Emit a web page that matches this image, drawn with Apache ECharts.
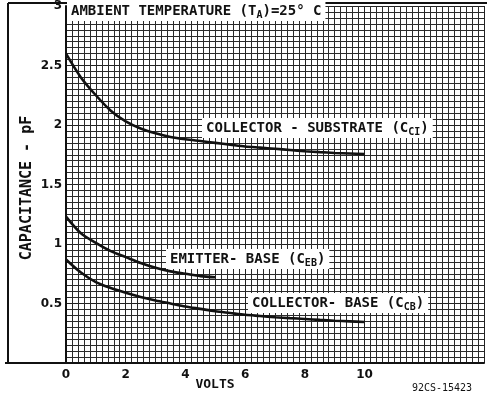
<!DOCTYPE html>
<html>
<head>
<meta charset="utf-8">
<script src="https://cdn.jsdelivr.net/npm/echarts@6/dist/echarts.min.js"></script>
<style>
  html, body { margin: 0; padding: 0; background: #fff; }
  #chart { width: 487px; height: 396px; }
</style>
</head>
<body>
<div id="chart"></div>
<script>
// values (volts -> pF)
var cciVolts = [0, 0.5, 1, 1.5, 2, 2.5, 3, 3.5, 4, 4.5, 5, 5.5, 6, 6.5, 7, 7.5, 8, 8.5, 9, 9.5, 10];
var cciValues = [2.60, 2.40, 2.25, 2.12, 2.03, 1.97, 1.93, 1.90, 1.88, 1.865, 1.85, 1.835, 1.82, 1.81, 1.80, 1.79, 1.78, 1.772, 1.765, 1.76, 1.755];
var cebVolts = [0, 0.5, 1, 1.5, 2, 2.5, 3, 3.5, 4, 4.5, 5];
var cebValues = [1.23, 1.09, 1.01, 0.94, 0.89, 0.84, 0.80, 0.77, 0.75, 0.73, 0.72];
var ccbVolts = [0, 0.5, 1, 1.5, 2, 2.5, 3, 3.5, 4, 4.5, 5, 5.5, 6, 6.5, 7, 7.5, 8, 8.5, 9, 9.5, 10];
var ccbValues = [0.87, 0.76, 0.68, 0.63, 0.59, 0.555, 0.525, 0.50, 0.475, 0.455, 0.435, 0.42, 0.405, 0.395, 0.385, 0.377, 0.37, 0.362, 0.355, 0.35, 0.345];

var xTickLabels = [0, 2, 4, 6, 8, 10];
var yTickLabels = [0.5, 1, 1.5, 2, 2.5, 3];

var FONT = "DejaVu Sans";
var MONO = "DejaVu Sans Mono";
var INK = "#111";

function pairs(xs, ys) {
  return xs.map(function (x, i) { return [x, ys[i]]; });
}

function curve(name, xs, ys) {
  return {
    name: name,
    type: "line",
    smooth: 0.3,
    symbol: "none",
    lineStyle: { color: INK, width: 2.6 },
    data: pairs(xs, ys),
    z: 5
  };
}

function boxText(x, y, text) {
  return {
    type: "text",
    left: x,
    top: y,
    z: 100,
    style: {
      text: text,
      font: "bold 14px " + MONO,
      fill: INK,
      lineHeight: 17,
      backgroundColor: "#fff",
      padding: [2, 4, 1, 4],
      rich: {
        sub: { fontFamily: MONO, fontWeight: "bold", fontSize: 10, lineHeight: 10, fill: INK, verticalAlign: "bottom" }
      }
    }
  };
}

var chart = echarts.init(document.getElementById("chart"));

chart.setOption({
  animation: false,
  backgroundColor: "#fff",
  grid: { left: 66, right: -3, top: 6, bottom: 33 },
  xAxis: {
    type: "value",
    min: 0,
    max: 14,
    interval: 2,
    axisLine: { show: true, lineStyle: { color: INK, width: 2 } },
    axisTick: { show: false },
    axisLabel: {
      margin: 6,
      color: INK,
      fontFamily: FONT,
      fontWeight: "bold",
      fontSize: 12,
      formatter: function (v) {
        return xTickLabels.indexOf(v) >= 0 ? String(v) : "";
      }
    },
    splitLine: { show: true, lineStyle: { color: "#222", width: 1 } },
    minorTick: { show: false, splitNumber: 10 },
    minorSplitLine: { show: true, lineStyle: { color: "#2a2a2a", width: 1 } }
  },
  yAxis: {
    type: "value",
    min: 0,
    max: 3,
    interval: 0.5,
    axisLine: { show: true, lineStyle: { color: INK, width: 2 } },
    axisTick: { show: false },
    axisLabel: {
      margin: 4,
      color: INK,
      fontFamily: FONT,
      fontWeight: "bold",
      fontSize: 12,
      formatter: function (v) {
        return yTickLabels.indexOf(v) >= 0 ? String(v) : "";
      }
    },
    splitLine: { show: true, lineStyle: { color: "#222", width: 1 } },
    minorTick: { show: false, splitNumber: 10 },
    minorSplitLine: { show: true, lineStyle: { color: "#2a2a2a", width: 1 } }
  },
  series: [
    curve("CCI", cciVolts, cciValues),
    curve("CEB", cebVolts, cebValues),
    curve("CCB", ccbVolts, ccbValues)
  ],
  graphic: [
    // outer frame of the figure
    { type: "line", z: 50, shape: { x1: 8, y1: 3, x2: 8, y2: 363 }, style: { stroke: INK, lineWidth: 2 } },
    { type: "line", z: 50, shape: { x1: 8, y1: 3, x2: 487, y2: 3 }, style: { stroke: INK, lineWidth: 2 } },
    { type: "line", z: 50, shape: { x1: 5, y1: 363, x2: 66, y2: 363 }, style: { stroke: INK, lineWidth: 2 } },
    boxText(67, 1, "AMBIENT TEMPERATURE (T{sub|A})=25° C"),
    boxText(202, 118, "COLLECTOR - SUBSTRATE (C{sub|CI})"),
    boxText(166, 249, "EMITTER- BASE (C{sub|EB})"),
    boxText(248, 293, "COLLECTOR- BASE (C{sub|CB})"),
    {
      type: "text",
      x: 27,
      y: 188,
      rotation: Math.PI / 2,
      style: {
        text: "CAPACITANCE - pF",
        font: "bold 15px " + MONO,
        fill: INK,
        align: "center",
        verticalAlign: "middle"
      }
    },
    {
      type: "text",
      x: 215,
      y: 385,
      style: { text: "VOLTS", font: "bold 13px " + MONO, fill: INK, align: "center", verticalAlign: "middle" }
    },
    {
      type: "text",
      x: 442,
      y: 388,
      style: { text: "92CS-15423", font: "10px " + MONO, fill: INK, align: "center", verticalAlign: "middle" }
    }
  ]
});
</script>
</body>
</html>
